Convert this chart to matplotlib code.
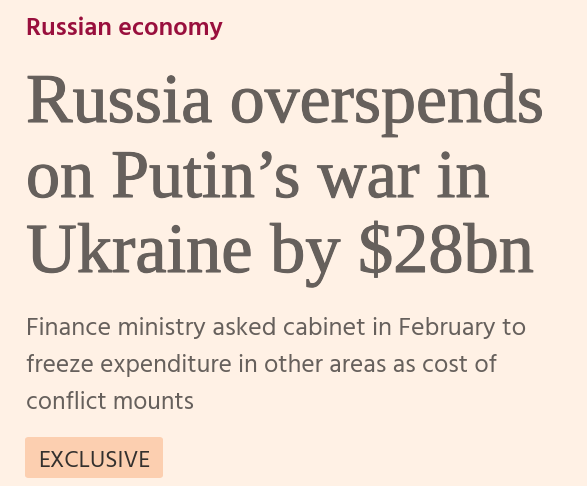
import matplotlib
matplotlib.use("Agg")
import matplotlib.pyplot as plt
from matplotlib.patches import FancyBboxPatch
import matplotlib.patheffects as pe

W, H = 587, 486
DPI = 100

kicker = "Russian economy"
title_lines = ["Russia overspends", "on Putin\u2019s war in", "Ukraine by $28bn"]
standfirst_lines = ["Finance ministry asked cabinet in February to",
                    "freeze expenditure in other areas as cost of",
                    "conflict mounts"]
badge = "EXCLUSIVE"

BG = "#FFF1E5"
SERIF = "Liberation Serif"
SANS = "Hind"
TITLE_C = "#66605C"

fig = plt.figure(figsize=(W / DPI, H / DPI), dpi=DPI, facecolor=BG)
renderer = fig.canvas.get_renderer()


def px(x, y):
    return x / W, 1 - y / H


def fit_text(x, y, s, target_w, **kw):
    t = fig.text(*px(x, y), s, va="baseline", ha="left", fontsize=20, **kw)
    w = t.get_window_extent(renderer).width
    t.set_fontsize(20 * target_w / w)
    return t


# kicker
fit_text(26, 35, kicker, 196, family=SANS, weight="semibold", color="#990F3D")

# headline
for y, s, tw in zip([122, 197, 272], title_lines, [518, 464, 508]):
    t = fit_text(26, y, s, tw, family=SERIF, color=TITLE_C)
    t.set_path_effects([pe.withStroke(linewidth=0.8, foreground=TITLE_C)])

# standfirst
for y, s, tw in zip([335, 372, 409], standfirst_lines, [498, 471, 168]):
    fit_text(26, y, s, tw, family=SANS, color="#66605C")

# badge
x0, y0, x1, y1 = 25, 437, 163, 478
box = FancyBboxPatch((x0 / W, 1 - y1 / H), (x1 - x0) / W, (y1 - y0) / H,
                     boxstyle="round,pad=0,rounding_size=0.006",
                     transform=fig.transFigure, facecolor="#FCCFB0",
                     edgecolor="none")
fig.patches.append(box)
fit_text(38, 467, badge, 112, family=SANS, color="#33302E")

fig.savefig("out.png", dpi=DPI, facecolor=BG)
